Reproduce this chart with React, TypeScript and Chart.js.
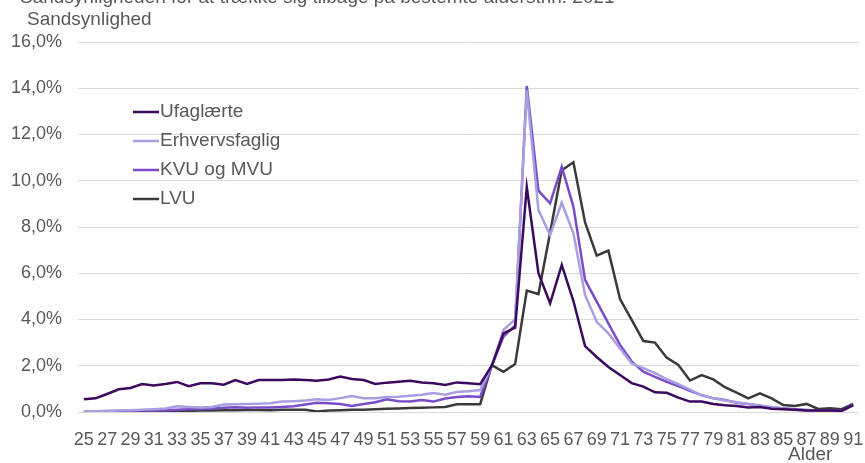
import React, { useEffect, useRef } from 'react';
import { Chart, registerables } from 'chart.js';

Chart.register(...registerables);

const FONT = '"Liberation Sans", Arial, sans-serif';
const TEXT = '#595959';

const ages = [
  '25','26','27','28','29','30','31','32','33','34','35','36','37','38','39','40',
  '41','42','43','44','45','46','47','48','49','50','51','52','53','54','55','56',
  '57','58','59','60','61','62','63','64','65','66','67','68','69','70','71','72',
  '73','74','75','76','77','78','79','80','81','82','83','84','85','86','87','88',
  '89','90','91',
];

const ufaglaerte = [
  0.55, 0.59, 0.78, 0.98, 1.04, 1.21, 1.15, 1.21, 1.3, 1.12, 1.24, 1.24, 1.18, 1.38, 1.21, 1.38,
  1.38, 1.38, 1.41, 1.38, 1.35, 1.41, 1.53, 1.43, 1.38, 1.21, 1.27, 1.31, 1.35, 1.28, 1.24, 1.17,
  1.28, 1.24, 1.2, 2.0, 3.4, 3.65, 9.73, 6.0, 4.7, 6.36, 4.8, 2.85, 2.38, 1.95, 1.6, 1.25,
  1.1, 0.85, 0.83, 0.62, 0.45, 0.45, 0.35, 0.29, 0.26, 0.2, 0.22, 0.14, 0.12, 0.1, 0.07, 0.07,
  0.07, 0.05, 0.3,
];

const erhvervsfaglig = [
  0.02, 0.03, 0.05, 0.06, 0.08, 0.1, 0.12, 0.15, 0.25, 0.22, 0.2, 0.22, 0.32, 0.33, 0.35, 0.36,
  0.38, 0.45, 0.47, 0.5, 0.55, 0.52, 0.6, 0.69, 0.6, 0.6, 0.65, 0.66, 0.7, 0.75, 0.82, 0.75,
  0.86, 0.9, 0.95, 2.0, 3.55, 4.0, 13.9, 8.73, 7.65, 9.05, 7.73, 5.06, 3.9, 3.4, 2.75, 2.1,
  1.9, 1.68, 1.42, 1.2, 0.97, 0.72, 0.6, 0.5, 0.42, 0.35, 0.28, 0.22, 0.15, 0.1, 0.07, 0.05,
  0.04, 0.04, 0.3,
];

const kvuMvu = [
  0.0, 0.02, 0.03, 0.04, 0.05, 0.06, 0.07, 0.08, 0.1, 0.12, 0.13, 0.15, 0.18, 0.2, 0.18, 0.2,
  0.2, 0.22, 0.25, 0.32, 0.4, 0.38, 0.35, 0.26, 0.35, 0.42, 0.55, 0.47, 0.45, 0.52, 0.45, 0.58,
  0.65, 0.68, 0.65, 2.0, 3.26, 3.75, 14.1, 9.57, 9.02, 10.6, 8.88, 5.71, 4.77, 3.83, 2.9, 2.18,
  1.74, 1.52, 1.3, 1.12, 0.92, 0.73, 0.59, 0.52, 0.4, 0.35, 0.27, 0.2, 0.16, 0.12, 0.09, 0.07,
  0.05, 0.05, 0.3,
];

const lvu = [
  0.0, 0.0, 0.01, 0.02, 0.02, 0.03, 0.03, 0.04, 0.05, 0.05, 0.06, 0.07, 0.08, 0.08, 0.09, 0.09,
  0.08, 0.1, 0.1, 0.1, 0.02, 0.07, 0.08, 0.1, 0.1, 0.12, 0.14, 0.15, 0.17, 0.18, 0.2, 0.22,
  0.33, 0.34, 0.34, 2.03, 1.74, 2.07, 5.25, 5.1, 7.75, 10.45, 10.8, 8.2, 6.76, 6.98, 4.88, 3.98,
  3.07, 3.0, 2.35, 2.03, 1.36, 1.6, 1.41, 1.07, 0.84, 0.59, 0.81, 0.59, 0.3, 0.26, 0.35, 0.13,
  0.16, 0.12, 0.35,
];

const seriesNames = ['Ufaglærte', 'Erhvervsfaglig', 'KVU og MVU', 'LVU'];
const seriesColors = ['#3b0a5e', '#a99ee2', '#7a4cc8', '#3a3a3c'];

const titleText = 'Sandsynligheden for at trække sig tilbage på bestemte alderstrin. 2021';
const yTitle = 'Sandsynlighed';
const xTitle = 'Alder';

export default function App() {
  const ref = useRef<HTMLCanvasElement | null>(null);

  useEffect(() => {
    if (!ref.current) return;

    const overlay = {
      id: 'overlay',
      afterDraw(chart: any) {
        const ctx = chart.ctx;
        ctx.save();
        ctx.fillStyle = TEXT;
        ctx.font = `19px ${FONT}`;
        ctx.textAlign = 'left';
        ctx.textBaseline = 'alphabetic';
        ctx.fillText(titleText, 20, 3);
        ctx.textBaseline = 'middle';
        ctx.fillText(yTitle, 27, 20);
        ctx.fillText(xTitle, 788, 455);
        const rows = [112, 141, 170, 199];
        chart.data.datasets.forEach((ds: any, i: number) => {
          const y = rows[i];
          ctx.strokeStyle = ds.borderColor;
          ctx.lineWidth = 2.5;
          ctx.beginPath();
          ctx.moveTo(133, y);
          ctx.lineTo(159, y);
          ctx.stroke();
          ctx.fillStyle = TEXT;
          ctx.fillText(ds.label, 160, y);
        });
        ctx.restore();
      },
    };

    const seriesData = [ufaglaerte, erhvervsfaglig, kvuMvu, lvu];

    const chart = new Chart(ref.current, {
      type: 'line',
      data: {
        labels: ages,
        datasets: seriesData.map((d, i) => ({
          label: seriesNames[i],
          data: d,
          borderColor: seriesColors[i],
          backgroundColor: seriesColors[i],
          borderWidth: 2.5,
          pointRadius: 0,
          tension: 0,
          fill: false,
        })),
      },
      options: {
        responsive: false,
        animation: false,
        layout: { padding: { top: 42, right: 6, left: 0, bottom: 0 } },
        plugins: {
          legend: { display: false },
          tooltip: { enabled: false },
          title: { display: false },
        },
        scales: {
          x: {
            type: 'category',
            offset: true,
            grid: { display: false, drawTicks: false },
            border: { display: false },
            ticks: {
              autoSkip: false,
              maxRotation: 0,
              minRotation: 0,
              padding: 17,
              color: TEXT,
              font: { family: FONT, size: 18 },
              callback: (_v: any, idx: number) => (idx % 2 === 0 ? ages[idx] : ''),
            },
            afterFit: (scale: any) => {
              scale.height = 51;
              scale.paddingLeft = 0;
              scale.paddingRight = 0;
            },
          },
          y: {
            min: 0,
            max: 16,
            grid: { color: '#d9d9d9', lineWidth: 1, drawTicks: false },
            border: { display: false },
            ticks: {
              stepSize: 2,
              padding: 16,
              color: TEXT,
              font: { family: FONT, size: 18 },
              callback: (v: any) => Number(v).toFixed(1).replace('.', ',') + '%',
            },
            afterFit: (scale: any) => {
              scale.width = 78;
              scale.paddingTop = 0;
              scale.paddingBottom = 0;
            },
          },
        },
      },
      plugins: [overlay],
    });

    return () => chart.destroy();
  }, []);

  return (
    <div style={{ position: 'absolute', left: 0, top: 0, width: 865, height: 463 }}>
      <canvas ref={ref} width={865} height={463} style={{ width: 865, height: 463 }} />
    </div>
  );
}
